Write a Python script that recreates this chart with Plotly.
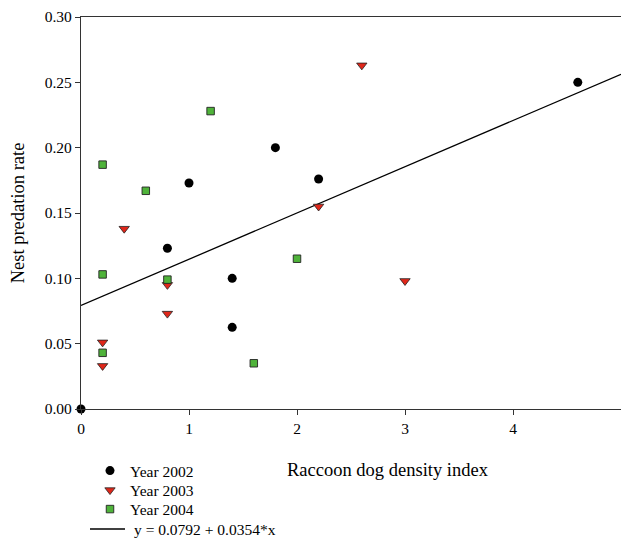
import plotly.graph_objects as go

x2002 = [0.0, 0.8, 1.0, 1.4, 1.4, 1.8, 2.2, 4.6]
y2002 = [0.0, 0.123, 0.173, 0.100, 0.0625, 0.200, 0.176, 0.250]

x2003 = [0.2, 0.2, 0.4, 0.8, 0.8, 2.2, 2.6, 3.0]
y2003 = [0.051, 0.033, 0.138, 0.095, 0.073, 0.155, 0.263, 0.098]

x2004 = [0.2, 0.2, 0.2, 0.6, 0.8, 1.2, 1.6, 2.0]
y2004 = [0.187, 0.103, 0.043, 0.167, 0.099, 0.228, 0.035, 0.115]

intercept = 0.0792
slope = 0.0354
fit_x = [0.0, 5.0]
fit_y = [intercept + slope * v for v in fit_x]
fit_label = "y = 0.0792 + 0.0354*x"

xticks = [0, 1, 2, 3, 4, 5]
yticks = [0.00, 0.05, 0.10, 0.15, 0.20, 0.25, 0.30]

FONT = "Liberation Serif, Times New Roman, serif"
W, H = 621, 538
ML, MR, MT, MB = 81, 0, 17, 129
PW = W - ML - MR
PH = H - MT - MB


def py(pix):
    return (H - MB - pix) / PH


def px(pix):
    return (pix - ML) / PW


leg_common = dict(x=px(90), xanchor="left", yanchor="middle",
                  font=dict(family=FONT, size=15.5), bgcolor="rgba(0,0,0,0)",
                  borderwidth=0)

fig = go.Figure()
fig.add_trace(go.Scatter(
    x=fit_x, y=fit_y, mode="lines", name=fit_label,
    line=dict(color="black", width=1.3), showlegend=False))
fig.add_trace(go.Scatter(
    x=x2002, y=y2002, mode="markers", name="Year 2002",
    marker=dict(symbol="circle", size=9, color="black"),
    cliponaxis=False, legend="legend"))
fig.add_trace(go.Scatter(
    x=x2003, y=y2003, mode="markers", name="Year 2003",
    marker=dict(symbol="triangle-down", size=9, color="#e0271a",
                line=dict(color="#222222", width=0.8)),
    cliponaxis=False, legend="legend2"))
fig.add_trace(go.Scatter(
    x=x2004, y=y2004, mode="markers", name="Year 2004",
    marker=dict(symbol="square", size=7.5, color="#4fb33a",
                line=dict(color="#222222", width=0.9)),
    cliponaxis=False, legend="legend3"))

fig.update_layout(
    width=W, height=H,
    margin=dict(l=ML, r=MR, t=MT, b=MB),
    plot_bgcolor="white", paper_bgcolor="white",
    font=dict(family=FONT, size=15.5, color="black"),
    showlegend=True,
    legend=dict(y=py(471), **leg_common),
    legend2=dict(y=py(490.5), **leg_common),
    legend3=dict(y=py(509.5), **leg_common),
    xaxis=dict(range=[0, 5], tickvals=xticks, ticktext=[str(v) for v in xticks],
               showgrid=False, zeroline=False, showline=True, linecolor="#333333",
               linewidth=1.3, mirror=True, ticks="outside", ticklen=5,
               tickcolor="#333333", tickfont=dict(size=15.5), automargin=False),
    yaxis=dict(range=[0, 0.30], tickvals=yticks,
               ticktext=["%.2f" % v for v in yticks],
               showgrid=False, zeroline=False, showline=True, linecolor="#333333",
               linewidth=1.3, ticks="outside", ticklen=5, tickcolor="#333333",
               tickfont=dict(size=15.5), automargin=False,
               title=dict(text="Nest predation rate", font=dict(size=18.5))),
)
# legend entry for the regression line (key line + label)
fig.add_shape(type="line", xref="paper", yref="paper",
              x0=px(90), x1=px(125), y0=py(529), y1=py(529),
              line=dict(color="black", width=1.3))
fig.add_annotation(text=fit_label, xref="paper", yref="paper",
                   x=px(132), y=py(529), xanchor="left", yanchor="middle",
                   showarrow=False, font=dict(family=FONT, size=15.5))
fig.add_annotation(text="Raccoon dog density index", xref="paper", yref="paper",
                   x=px(388), y=py(470),
                   xanchor="center", yanchor="middle",
                   showarrow=False, font=dict(family=FONT, size=18.5))

fig.write_html("out.html", config={"displayModeBar": False},
               post_script="document.body.style.margin='0';document.body.style.overflow='hidden';")
